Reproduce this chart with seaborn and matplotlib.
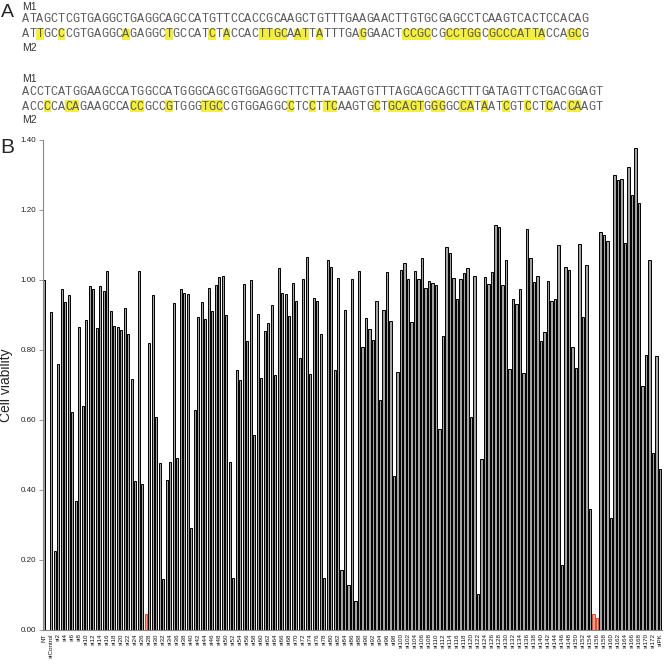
import numpy as np
import pandas as pd
import matplotlib
matplotlib.use("Agg")
import matplotlib.pyplot as plt
import seaborn as sns
from matplotlib.patches import Rectangle

# ---------------- data ----------------
# Panel A: aligned sequences (M1 above, M2 below), two blocks
m1_block1 = "ATAGCTCGTGAGGCTGAGGCAGCCATGTTCCACCGCAAGCTGTTTGAAGAACTTGTGCGAGCCTCAAGTCACTCCACAG"
m2_block1 = "ATTGCCCGTGAGGCAGAGGCTGCCATCTACCACTTGCAATTATTTGAGGAACTCCGCCGCCTGGCGCCCATTACCAGCG"
m1_block2 = "ACCTCATGGAAGCCATGGCCATGGGCAGCGTGGAGGCTTCTTATAAGTGTTTAGCAGCAGCTTTGATAGTTCTGACGGAGT"
m2_block2 = "ACCCCACAGAAGCCACCGCCGTGGGTGCCGTGGAGGCCTCCTTCAAGTGCTGCAGTGGGGCCATAATCGTCCTCACCAAGT"

# Panel B: siRNA screen
sirna_labels = ["NT", "", "siControl"] + [f"si{i}" for i in range(1, 174)] + ["siPK"]
viability = [
    1.00, np.nan, 0.91, 0.227, 0.759, 0.974, 0.938, 0.956, 0.624, 0.369,
    0.865, 0.64, 0.886, 0.983, 0.973, 0.862, 0.984, 0.970, 1.026, 0.911,
    0.870, 0.865, 0.857, 0.919, 0.846, 0.717, 0.427, 1.026, 0.416, 0.046,
    0.819, 0.956, 0.608, 0.476, 0.147, 0.429, 0.48, 0.933, 0.492, 0.973,
    0.964, 0.959, 0.292, 0.629, 0.893, 0.937, 0.889, 0.978, 0.911, 0.987,
    1.008, 1.012, 0.90, 0.48, 0.150, 0.743, 0.713, 0.988, 0.827, 1.00,
    0.557, 0.903, 0.721, 0.853, 0.877, 0.928, 0.729, 1.033, 0.962, 0.959,
    0.898, 0.992, 0.941, 0.776, 1.003, 1.065, 0.731, 0.948, 0.94, 0.846,
    0.150, 1.056, 1.038, 0.743, 1.005, 0.171, 0.914, 0.128, 1.002, 0.084,
    1.027, 0.810, 0.892, 0.859, 0.830, 0.939, 0.657, 0.913, 1.024, 0.882,
    0.44, 0.736, 1.030, 1.050, 1.003, 0.88, 1.027, 1.002, 1.063, 0.976,
    0.997, 0.992, 0.986, 0.573, 0.84, 1.095, 1.076, 1.006, 0.945, 1.002,
    1.021, 1.034, 0.61, 1.011, 0.103, 0.489, 1.008, 0.988, 1.024, 1.156,
    1.152, 0.985, 1.057, 0.746, 0.946, 0.931, 0.973, 0.733, 1.146, 1.064,
    0.994, 1.011, 0.826, 0.852, 0.997, 0.941, 0.946, 1.10, 0.186, 1.038,
    1.030, 0.808, 0.75, 1.103, 0.893, 1.043, 0.346, 0.046, 0.033, 1.136,
    1.129, 1.11, 0.319, 1.30, 1.286, 1.288, 1.105, 1.322, 1.244, 1.376,
    1.219, 0.698, 0.785, 1.057, 0.507, 0.784, 0.46,
]
red_sirnas = ["si27", "si155", "si156"]
yticks = [0.0, 0.2, 0.4, 0.6, 0.8, 1.0, 1.2, 1.4]

# ---------------- figure ----------------
sns.set_style("white")
plt.rcParams["font.family"] = ["Liberation Sans", "DejaVu Sans"]

W, H = 664, 670
fig = plt.figure(figsize=(W / 100, H / 100), dpi=100)


def fx(px):
    return px / W


def fy(py):
    return 1 - py / H


# ---- Panel A ----
fig.text(fx(1), fy(17), "A", fontsize=14, va="baseline", ha="left")
fig.text(fx(0), fy(153), "B", fontsize=15, va="baseline", ha="left")

label_kw = dict(fontsize=7.5, color="#333333", va="baseline", ha="left")
fig.text(fx(22), fy(9.5), "M1", **label_kw)
fig.text(fx(22), fy(51), "M2", **label_kw)
fig.text(fx(22), fy(82), "M1", **label_kw)
fig.text(fx(22), fy(123), "M2", **label_kw)

pitch = 7.17
x0 = 22.0
seq_kw = dict(fontsize=8.6, color="#5a5a5a", va="baseline", ha="center",
              family=["Liberation Mono", "DejaVu Sans Mono"])


def draw_seq(seq, base_y, ref=None, box=None):
    for i, ch in enumerate(seq):
        if ref is not None and ch != ref[i]:
            r = Rectangle((fx(x0 + i * pitch), fy(box[1])), pitch / W,
                          (box[1] - box[0]) / H, transform=fig.transFigure,
                          facecolor="#f4ee3c", edgecolor="none", zorder=1)
            fig.patches.append(r)
        fig.text(fx(x0 + (i + 0.5) * pitch), fy(base_y), ch, zorder=2, **seq_kw)


draw_seq(m1_block1, 22.5)
draw_seq(m2_block1, 37.0, ref=m1_block1, box=(28.5, 39.5))
draw_seq(m1_block2, 95.0)
draw_seq(m2_block2, 109.5, ref=m1_block2, box=(100.5, 112.0))

# ---- Panel B ----
ax = fig.add_axes([fx(42.5), 40 / H, 619.3 / W, 490 / H])
df = pd.DataFrame({"sirna": sirna_labels, "viability": viability})
sns.barplot(data=df, x="sirna", y="viability", order=sirna_labels,
            color="#a4a4a4", edgecolor="black", linewidth=0.7, width=0.66,
            errorbar=None, ax=ax, saturation=1)

for p in ax.patches:
    idx = int(round(p.get_x() + p.get_width() / 2))
    if 0 <= idx < len(sirna_labels) and sirna_labels[idx] in red_sirnas:
        p.set_facecolor("#f3a08c")
        p.set_edgecolor("#dc4a30")

n = len(sirna_labels)
ax.set_xlim(-0.45, n - 0.5)
ax.set_ylim(0, 1.40)
ax.set_yticks(yticks)
ax.set_yticklabels([f"{v:.2f}" for v in yticks], fontsize=5.8, color="#222222")
ax.set_xticks(range(n))
ax.set_xticklabels([lab if i % 2 == 0 else "" for i, lab in enumerate(sirna_labels)],
                   rotation=90, fontsize=4.5, color="#111111")
ax.set_xticks(np.arange(-0.5, n, 1), minor=True)
ax.tick_params(axis="x", which="major", length=0, pad=2.5)
ax.tick_params(axis="x", which="minor", length=2, width=0.5, color="#888888", direction="out")
ax.tick_params(axis="y", length=3, width=0.6, color="#888888", direction="out", pad=1.5, left=True)
ax.set_xlabel("")
ax.set_ylabel("Cell viability", fontsize=10)
ax.yaxis.set_label_coords(-0.047, 0.5)
for s in ["top", "right"]:
    ax.spines[s].set_visible(False)
for s in ["left", "bottom"]:
    ax.spines[s].set_color("#888888")
    ax.spines[s].set_linewidth(0.8)
ax.grid(False)

fig.savefig("out.png", dpi=100)
